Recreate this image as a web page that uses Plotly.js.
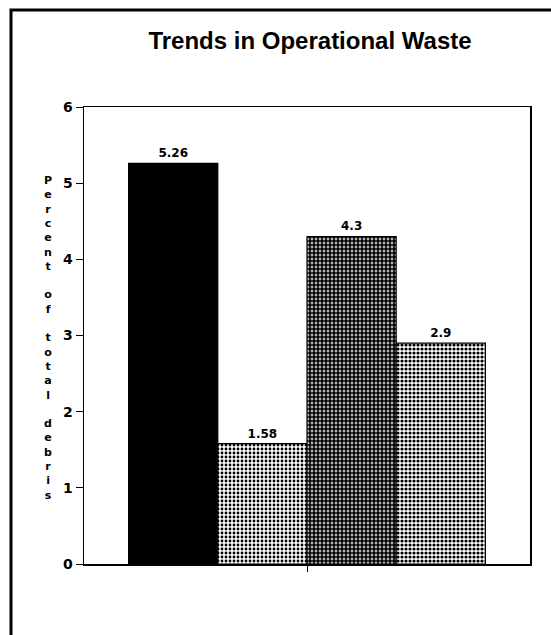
<!DOCTYPE html>
<html>
<head>
<meta charset="utf-8">
<script src="https://cdn.plot.ly/plotly-3.0.1.min.js"></script>
<style>html,body{margin:0;padding:0;background:#fff;}#chart{width:551px;height:635px;}</style>
</head>
<body>
<div id="chart"></div>
<script>
// Data
const categories = ['Operational waste'];
const seriesNames = ['Series A', 'Series B', 'Series C', 'Series D'];
const seriesValues = [5.26, 1.58, 4.3, 2.9];
const valueLabels = ['5.26', '1.58', '4.3', '2.9'];
const yTickVals = [0, 1, 2, 3, 4, 5, 6];
const yTickText = ['0', '1', '2', '3', '4', '5', '6'];
const yTitleText = 'Percent of total debris';

const heavy = 'DejaVu Sans, Liberation Sans, Arial, sans-serif';

// Fill styles (black, light dots, dark dots, medium dots)
const fills = [
  {color: '#000000', pattern: null},
  {color: '#ffffff', pattern: {shape: '.', fgcolor: '#000000', bgcolor: '#ffffff', size: 4, solidity: 0.4}},
  {color: '#ffffff', pattern: {shape: '.', fgcolor: '#000000', bgcolor: '#ffffff', size: 4, solidity: 0.75}},
  {color: '#ffffff', pattern: {shape: '.', fgcolor: '#000000', bgcolor: '#ffffff', size: 4, solidity: 0.5}}
];

const traces = seriesNames.map((name, i) => {
  const m = {color: fills[i].color, line: {color: '#000', width: 1.2}};
  if (fills[i].pattern) m.pattern = fills[i].pattern;
  return {
    type: 'bar',
    name: name,
    x: categories,
    y: [seriesValues[i]],
    text: [valueLabels[i]],
    textposition: 'outside',
    textfont: {family: heavy, size: 12, color: '#000', weight: 'bold'},
    cliponaxis: false,
    marker: m,
    hoverinfo: 'skip'
  };
});

const stacked = yTitleText.split('').join('<br>');

const layout = {
  width: 551, height: 635,
  margin: {l: 84, r: 21, t: 107, b: 71},
  paper_bgcolor: '#fff', plot_bgcolor: '#fff',
  showlegend: false,
  barmode: 'group', bargap: 0.2, bargroupgap: 0,
  font: {family: 'Liberation Sans, Arial, sans-serif', color: '#000'},
  title: {
    text: 'Trends in Operational Waste',
    font: {family: 'Liberation Sans, Arial, sans-serif', size: 24, color: '#000', weight: 'bold'},
    x: 310 / 551, xanchor: 'center', y: 1 - 41/635, yanchor: 'middle'
  },
  xaxis: {
    showticklabels: false, ticks: 'outside', ticklen: 6, tickcolor: '#000', tickwidth: 1,
    showline: true, linecolor: '#000', linewidth: 1.5, mirror: true,
    showgrid: false, zeroline: false, fixedrange: true
  },
  yaxis: {
    range: [0, 6], tickvals: yTickVals, ticktext: yTickText,
    ticks: 'outside', ticklen: 7, tickcolor: '#000', tickwidth: 1,
    tickfont: {family: heavy, size: 14, color: '#000', weight: 'bold'},
    showline: true, linecolor: '#000', linewidth: 1.5, mirror: true,
    showgrid: false, zeroline: false, fixedrange: true
  },
  annotations: [{
    text: stacked, xref: 'paper', yref: 'paper',
    x: (48 - 84) / 446, y: (564 - 338) / 457, xanchor: 'center', yanchor: 'middle',
    showarrow: false, align: 'center',
    font: {family: heavy, size: 11, color: '#000', weight: 'bold'}
  }],
  shapes: [{
    type: 'rect', xref: 'paper', yref: 'paper',
    x0: (11 - 84) / 446, x1: (570 - 84) / 446,
    y0: (564 - 650) / 457, y1: (564 - 10) / 457,
    line: {color: '#000', width: 3}, fillcolor: 'rgba(0,0,0,0)', layer: 'below'
  }]
};

Plotly.newPlot('chart', traces, layout, {displayModeBar: false, staticPlot: true});
</script>
</body>
</html>
